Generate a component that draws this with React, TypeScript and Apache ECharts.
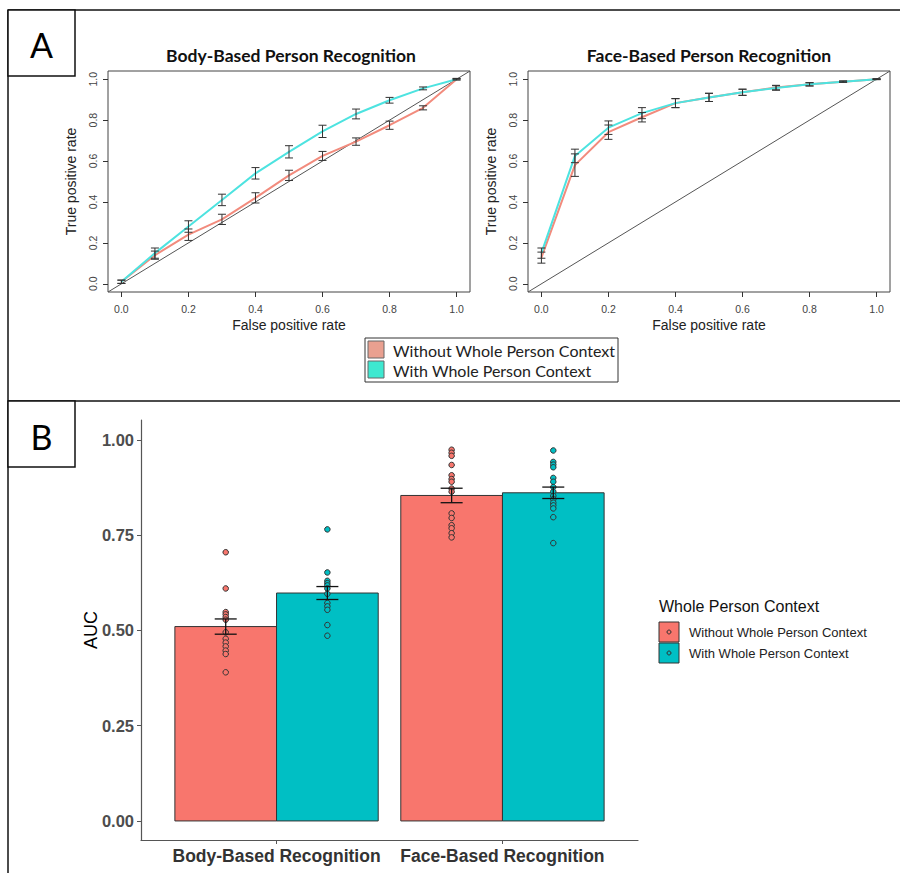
import React, { useEffect, useRef } from "react";
import * as echarts from "echarts";

// ---------- Panel A: ROC curves ----------
const fpr = [0, 0.1, 0.2, 0.3, 0.4, 0.5, 0.6, 0.7, 0.8, 0.9, 1.0];
const bodyWithoutTpr = [0.01, 0.14, 0.24, 0.315, 0.42, 0.53, 0.625, 0.695, 0.775, 0.86, 1.0];
const bodyWithoutErr = [0.008, 0.02, 0.028, 0.025, 0.025, 0.025, 0.022, 0.018, 0.02, 0.01, 0.004];
const bodyWithTpr = [0.01, 0.15, 0.28, 0.41, 0.54, 0.645, 0.745, 0.83, 0.897, 0.955, 1.0];
const bodyWithErr = [0.008, 0.025, 0.028, 0.028, 0.028, 0.03, 0.03, 0.024, 0.014, 0.007, 0.003];
const faceWithoutTpr = [0.128, 0.58, 0.741, 0.814, 0.883, 0.911, 0.936, 0.959, 0.975, 0.988, 1.0];
const faceWithoutErr = [0.027, 0.055, 0.035, 0.023, 0.022, 0.02, 0.015, 0.011, 0.008, 0.003, 0.002];
const faceWithTpr = [0.15, 0.625, 0.763, 0.834, 0.883, 0.911, 0.936, 0.957, 0.975, 0.988, 1.0];
const faceWithErr = [0.025, 0.033, 0.033, 0.027, 0.022, 0.02, 0.015, 0.011, 0.008, 0.003, 0.002];
const chanceLine = [-0.04, 1.04];
const rocTicks = [0, 0.2, 0.4, 0.6, 0.8, 1.0];
const rocTitles = ["Body-Based Person Recognition", "Face-Based Person Recognition"];
const conditionNames = ["Without Whole Person Context", "With Whole Person Context"];

// ---------- Panel B: AUC bars ----------
const categories = ["Body-Based Recognition", "Face-Based Recognition"];
const aucWithout = [0.51, 0.854];
const aucWithoutSe = [0.02, 0.019];
const aucWith = [0.598, 0.861];
const aucWithSe = [0.017, 0.015];
const bodyWithoutPoints = [0.705, 0.61, 0.548, 0.542, 0.535, 0.528, 0.495, 0.478, 0.468, 0.458, 0.447, 0.438, 0.39];
const bodyWithPoints = [0.765, 0.652, 0.63, 0.624, 0.618, 0.61, 0.596, 0.572, 0.563, 0.554, 0.514, 0.486];
const faceWithoutPoints = [0.974, 0.966, 0.958, 0.934, 0.907, 0.897, 0.89, 0.872, 0.864, 0.807, 0.795, 0.776, 0.768, 0.755, 0.744];
const faceWithPoints = [0.972, 0.942, 0.935, 0.928, 0.9, 0.89, 0.876, 0.864, 0.853, 0.844, 0.835, 0.828, 0.82, 0.797, 0.729];
const aucTicks = [0, 0.25, 0.5, 0.75, 1.0];

const LINE_SALMON = "#F28B7D";
const LINE_CYAN = "#4DE3E0";
const BAR_SALMON = "#F8766D";
const BAR_CYAN = "#00BFC4";
const DODGE = 0.225;

function errRenderer(capHalf: number, color: string, lw: number) {
  return (params: any, api: any) => {
    const x = api.value(0);
    const m = api.value(1);
    const e = api.value(2);
    const t = api.coord([x, m + e]);
    const b = api.coord([x, m - e]);
    const st = { stroke: color, lineWidth: lw };
    return {
      type: "group",
      children: [
        { type: "line", shape: { x1: t[0], y1: t[1], x2: b[0], y2: b[1] }, style: st },
        { type: "line", shape: { x1: t[0] - capHalf, y1: t[1], x2: t[0] + capHalf, y2: t[1] }, style: st },
        { type: "line", shape: { x1: b[0] - capHalf, y1: b[1], x2: b[0] + capHalf, y2: b[1] }, style: st },
      ],
    };
  };
}

function barRenderer(fill: string) {
  return (params: any, api: any) => {
    const x = api.value(0);
    const v = api.value(1);
    const p0 = api.coord([x - DODGE, v]);
    const p1 = api.coord([x + DODGE, 0]);
    return {
      type: "rect",
      shape: { x: p0[0], y: p0[1], width: p1[0] - p0[0], height: p1[1] - p0[1] },
      style: { fill, stroke: "#333", lineWidth: 1 },
    };
  };
}

function rocAxes(gi: number) {
  const x = {
    type: "value",
    gridIndex: gi,
    min: -0.04,
    max: 1.04,
    axisLine: { show: false, onZero: false },
    splitLine: { show: false },
    axisTick: { show: true, length: 5, lineStyle: { color: "#333" }, customValues: rocTicks },
    axisLabel: {
      customValues: rocTicks,
      formatter: (v: number) => v.toFixed(1),
      fontFamily: "Liberation Sans",
      fontSize: 10.5,
      color: "#444",
      margin: 11,
    },
    name: "False positive rate",
    nameLocation: "middle",
    nameGap: 26,
    nameTextStyle: { fontFamily: "Liberation Sans", fontSize: 14, color: "#222" },
  };
  const y = {
    type: "value",
    gridIndex: gi,
    min: -0.04,
    max: 1.04,
    axisLine: { show: false, onZero: false },
    splitLine: { show: false },
    axisTick: { show: true, length: 5, lineStyle: { color: "#333" }, customValues: rocTicks },
    axisLabel: {
      customValues: rocTicks,
      formatter: (v: number) => v.toFixed(1),
      fontFamily: "Liberation Sans",
      fontSize: 10.5,
      color: "#444",
      rotate: 90,
      margin: 10,
    },
    name: "True positive rate",
    nameLocation: "middle",
    nameGap: 30,
    nameTextStyle: { fontFamily: "Liberation Sans", fontSize: 14, color: "#222" },
  };
  return { x, y };
}

export default function App() {
  const ref = useRef<HTMLDivElement>(null);
  useEffect(() => {
    document.body.style.margin = "0";
    if (!ref.current) return;
    const chart = echarts.init(ref.current, null, { renderer: "svg" });

    const a0 = rocAxes(0);
    const a1 = rocAxes(1);
    const zip = (ys: number[]) => fpr.map((x, i) => [x, ys[i]]);
    const zipErr = (ys: number[], es: number[]) => fpr.map((x, i) => [x, ys[i], es[i]]);
    const diag = chanceLine.map((v) => [v, v]);

    const rocSeries = (gi: number, without: number[], withv: number[], wErr: number[], wiErr: number[]) => [
      {
        type: "line", xAxisIndex: gi, yAxisIndex: gi, data: diag, symbol: "none",
        lineStyle: { color: "#555", width: 1 }, silent: true, z: 1,
      },
      {
        type: "line", xAxisIndex: gi, yAxisIndex: gi, data: zip(without), symbol: "none",
        name: conditionNames[0], lineStyle: { color: LINE_SALMON, width: 2 }, z: 2,
      },
      {
        type: "line", xAxisIndex: gi, yAxisIndex: gi, data: zip(withv), symbol: "none",
        name: conditionNames[1], lineStyle: { color: LINE_CYAN, width: 2 }, z: 3,
      },
      {
        type: "custom", xAxisIndex: gi, yAxisIndex: gi, data: zipErr(without, wErr),
        encode: { x: 0, y: 1 }, renderItem: errRenderer(4, "#333", 1), z: 4,
      },
      {
        type: "custom", xAxisIndex: gi, yAxisIndex: gi, data: zipErr(withv, wiErr),
        encode: { x: 0, y: 1 }, renderItem: errRenderer(4, "#333", 1), z: 4,
      },
    ];

    const barX = (i: number, s: number) => i + 1 + (s === 0 ? -DODGE : DODGE);
    const pointGroups = [
      [bodyWithoutPoints, faceWithoutPoints],
      [bodyWithPoints, faceWithPoints],
    ];
    const barColors = [BAR_SALMON, BAR_CYAN];
    const aucMeans = [aucWithout, aucWith];
    const aucSes = [aucWithoutSe, aucWithSe];

    const barSeries: any[] = [];
    [0, 1].forEach((s) => {
      barSeries.push({
        type: "custom", xAxisIndex: 2, yAxisIndex: 2, name: conditionNames[s],
        data: categories.map((_, i) => [barX(i, s), aucMeans[s][i]]),
        encode: { x: 0, y: 1 }, renderItem: barRenderer(barColors[s]), z: 2,
      });
    });
    [0, 1].forEach((s) => {
      const pts: number[][] = [];
      categories.forEach((_, i) => pointGroups[s][i].forEach((v) => pts.push([barX(i, s), v])));
      barSeries.push({
        type: "scatter", xAxisIndex: 2, yAxisIndex: 2, data: pts, symbolSize: 5.5,
        itemStyle: { color: barColors[s], borderColor: "#333", borderWidth: 1, opacity: 1 }, z: 3,
      });
    });
    [0, 1].forEach((s) => {
      barSeries.push({
        type: "custom", xAxisIndex: 2, yAxisIndex: 2,
        data: categories.map((_, i) => [barX(i, s), aucMeans[s][i], aucSes[s][i]]),
        encode: { x: 0, y: 1 }, renderItem: errRenderer(11, "#111", 1.3), z: 4,
      });
    });

    const frameStyle = { stroke: "#111", lineWidth: 1.5 };
    const legendTextA = { fontFamily: "Lato", fontSize: 16, fill: "#222" };
    const legendTextB = { fontFamily: "Liberation Sans", fontSize: 13, fill: "#222" };

    const graphic: any[] = [
      // frame
      { type: "line", shape: { x1: 8, y1: 10, x2: 900, y2: 10 }, style: frameStyle },
      { type: "line", shape: { x1: 8, y1: 10, x2: 8, y2: 873 }, style: frameStyle },
      { type: "line", shape: { x1: 8, y1: 401, x2: 900, y2: 401 }, style: frameStyle },
      // panel labels
      { type: "rect", shape: { x: 8, y: 10, width: 67, height: 66 }, style: { fill: "#fff", ...frameStyle } },
      { type: "text", x: 41.5, y: 44, style: { text: "A", fontFamily: "Lato", fontSize: 34, fill: "#000", align: "center", verticalAlign: "middle" } },
      { type: "rect", shape: { x: 8, y: 401, width: 67, height: 66 }, style: { fill: "#fff", ...frameStyle } },
      { type: "text", x: 41.5, y: 436, style: { text: "B", fontFamily: "Lato", fontSize: 34, fill: "#000", align: "center", verticalAlign: "middle" } },
      // ROC titles
      { type: "text", x: 291, y: 55, style: { text: rocTitles[0], fontFamily: "Lato", fontWeight: "bold", fontSize: 17.5, fill: "#111", align: "center", verticalAlign: "middle" } },
      { type: "text", x: 709, y: 55, style: { text: rocTitles[1], fontFamily: "Lato", fontWeight: "bold", fontSize: 17.5, fill: "#111", align: "center", verticalAlign: "middle" } },
      // legend A
      { type: "rect", shape: { x: 365, y: 338, width: 253, height: 44 }, style: { fill: "#fff", stroke: "#333", lineWidth: 1 } },
      { type: "rect", shape: { x: 368, y: 341, width: 16, height: 17 }, style: { fill: "#E9A090", stroke: "#666", lineWidth: 1 } },
      { type: "rect", shape: { x: 368, y: 361, width: 16, height: 17 }, style: { fill: "#3EE8D0", stroke: "#666", lineWidth: 1 } },
      { type: "text", x: 393, y: 350, style: { text: conditionNames[0], ...legendTextA, verticalAlign: "middle" } },
      { type: "text", x: 393, y: 370, style: { text: conditionNames[1], ...legendTextA, verticalAlign: "middle" } },
      // legend B
      { type: "text", x: 659, y: 606, style: { text: "Whole Person Context", fontFamily: "Liberation Sans", fontSize: 16, fill: "#111", verticalAlign: "middle" } },
      { type: "rect", shape: { x: 659, y: 622, width: 20, height: 20 }, style: { fill: BAR_SALMON, stroke: "#333", lineWidth: 1 } },
      { type: "circle", shape: { cx: 669, cy: 632, r: 2 }, style: { fill: BAR_SALMON, stroke: "#333", lineWidth: 1 } },
      { type: "rect", shape: { x: 659, y: 643, width: 20, height: 20 }, style: { fill: BAR_CYAN, stroke: "#333", lineWidth: 1 } },
      { type: "circle", shape: { cx: 669, cy: 653, r: 2 }, style: { fill: BAR_CYAN, stroke: "#333", lineWidth: 1 } },
      { type: "text", x: 689, y: 632, style: { text: conditionNames[0], ...legendTextB, verticalAlign: "middle" } },
      { type: "text", x: 689, y: 653, style: { text: conditionNames[1], ...legendTextB, verticalAlign: "middle" } },
    ];

    chart.setOption({
      animation: false,
      backgroundColor: "#fff",
      grid: [
        { left: 108, top: 71, width: 362, height: 221, show: true, borderColor: "#444", borderWidth: 1, backgroundColor: "transparent" },
        { left: 528, top: 71, width: 362, height: 221, show: true, borderColor: "#444", borderWidth: 1, backgroundColor: "transparent" },
        { left: 141, top: 420, width: 497, height: 420, show: false },
      ],
      xAxis: [
        a0.x,
        a1.x,
        {
          type: "value", gridIndex: 2, min: 0.4, max: 2.6,
          axisLine: { show: true, onZero: false, lineStyle: { color: "#555", width: 1.2 } },
          splitLine: { show: false },
          axisTick: { show: true, length: 4, lineStyle: { color: "#555" }, customValues: [1, 2] },
          axisLabel: {
            customValues: [1, 2],
            formatter: (v: number) => categories[Math.round(v) - 1] ?? "",
            fontFamily: "Liberation Sans", fontWeight: "bold", fontSize: 17.5, color: "#333", margin: 7,
          },
        },
      ],
      yAxis: [
        a0.y,
        a1.y,
        {
          type: "value", gridIndex: 2, min: -0.05, max: 1.052,
          axisLine: { show: true, onZero: false, lineStyle: { color: "#555", width: 1.2 } },
          splitLine: { show: false },
          axisTick: { show: true, length: 4, lineStyle: { color: "#555" }, customValues: aucTicks },
          axisLabel: {
            customValues: aucTicks,
            formatter: (v: number) => v.toFixed(2),
            fontFamily: "Liberation Sans", fontWeight: "bold", fontSize: 16.5, color: "#4D4D4D", margin: 7,
          },
          name: "AUC",
          nameLocation: "middle",
          nameMoveOverlap: false,
          nameGap: 41,
          nameTextStyle: { fontFamily: "Liberation Sans", fontSize: 18, color: "#000" },
        },
      ],
      series: [
        ...rocSeries(0, bodyWithoutTpr, bodyWithTpr, bodyWithoutErr, bodyWithErr),
        ...rocSeries(1, faceWithoutTpr, faceWithTpr, faceWithoutErr, faceWithErr),
        ...barSeries,
      ],
      graphic,
    });
    return () => chart.dispose();
  }, []);
  return <div ref={ref} style={{ width: 900, height: 873 }} />;
}
